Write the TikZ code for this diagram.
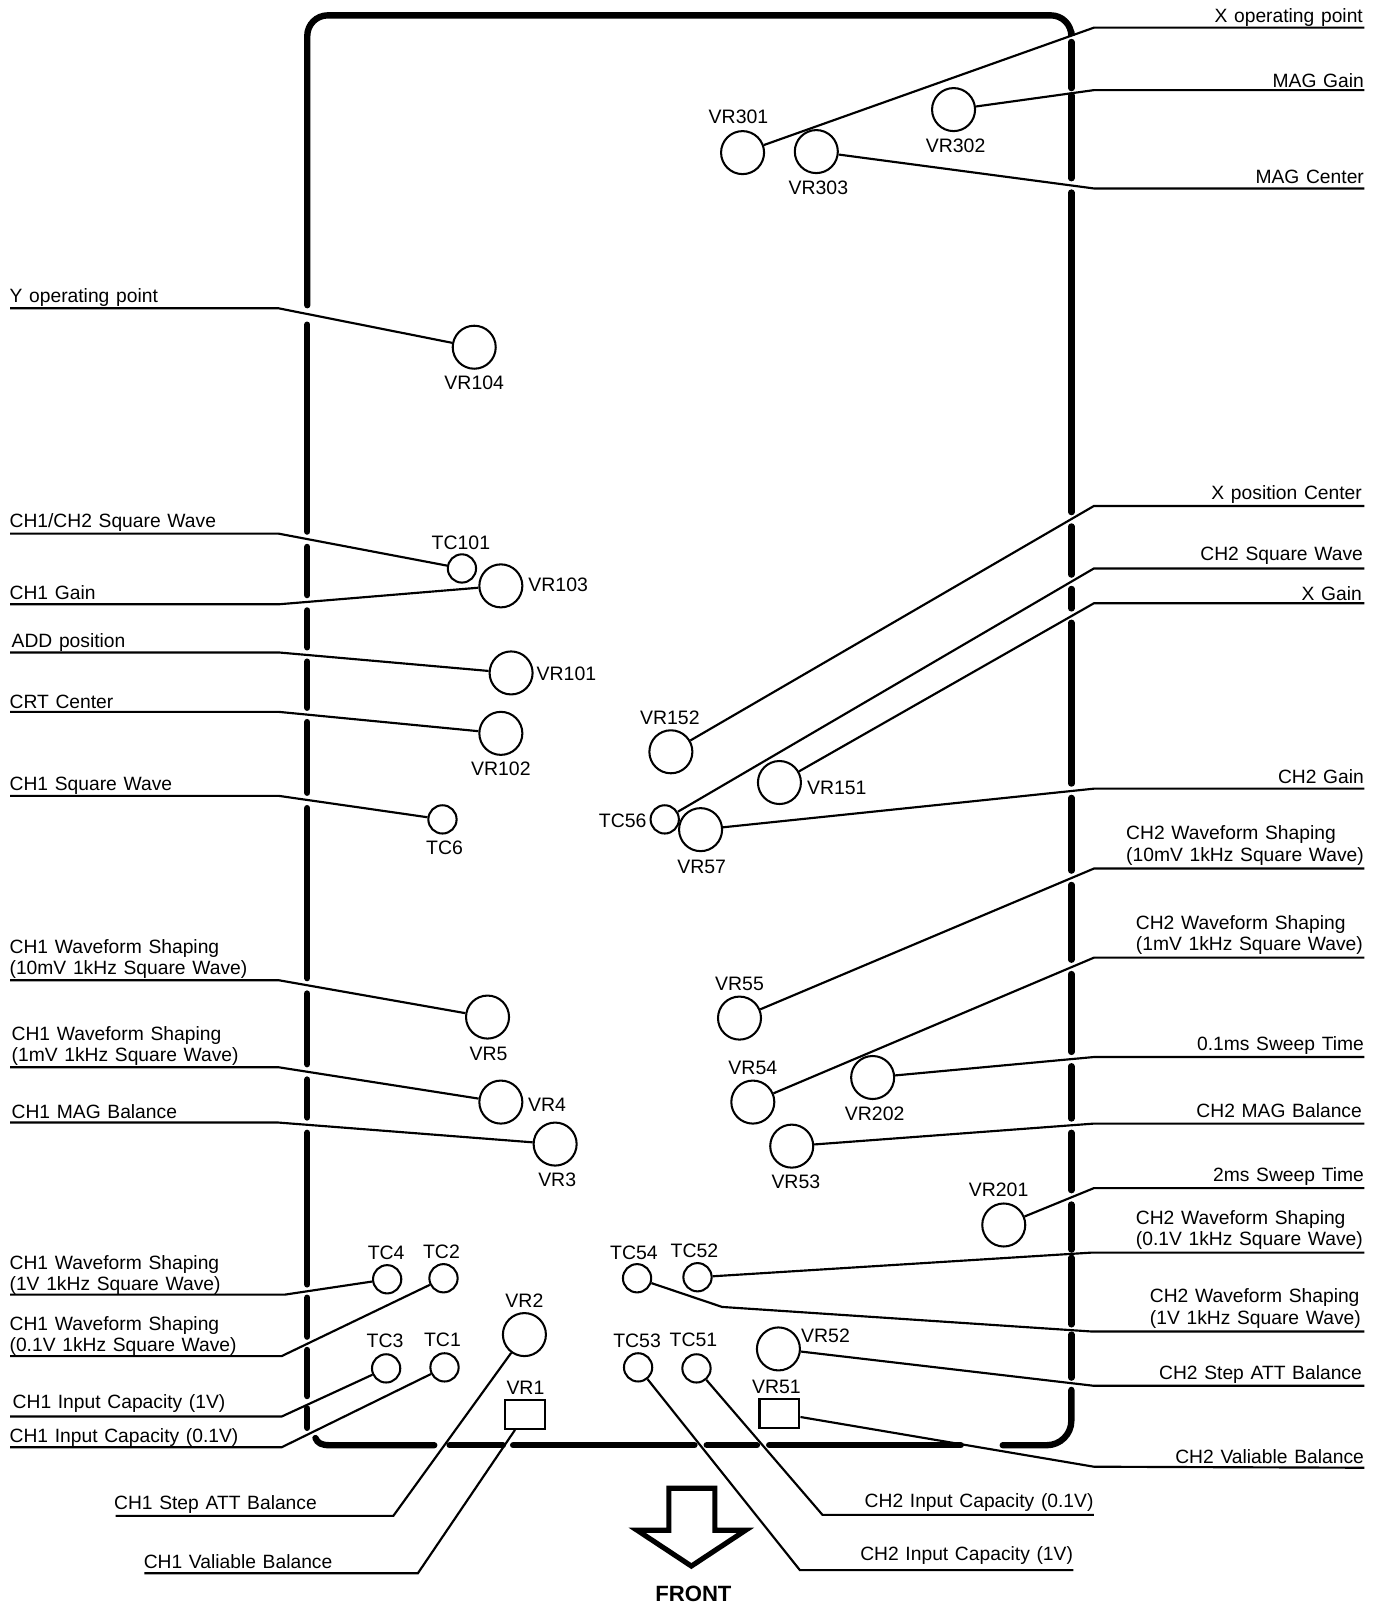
\documentclass[tikz,border=0pt]{standalone}
\usepackage{fontspec}
\setmainfont{Liberation Sans}[WordSpace=1.25]
\usepackage{xcolor}
\usepackage{tikz}
\usetikzlibrary{positioning}

\begin{document}
\begin{tikzpicture}[
  x=0.5pt, y=-0.5pt,
  vr/.style={circle, draw, line width=1pt, minimum size=21pt, inner sep=0pt},
  tc/.style={circle, draw, line width=1pt, minimum size=13.8pt, inner sep=0pt},
  trim/.style={rectangle, draw, line width=1pt, minimum width=19.5pt, minimum height=14pt, inner sep=0pt},
  frm/.style={line width=3.1pt, line cap=round},
  ld/.style={line width=1.05pt},
  tag/.style={font=\fontsize{9.5}{10}\selectfont, inner sep=0pt},
  ll/.style={font=\fontsize{9.4}{10.3}\selectfont, inner sep=0pt, align=left, anchor=south west, yshift=1pt},
  lr/.style={font=\fontsize{9.4}{10.3}\selectfont, inner sep=0pt, align=left, anchor=south east, yshift=1pt},
]
  \useasboundingbox (0,0) rectangle (1350,1568);

  % chassis outline, broken where leaders pass
  \draw[frm, rounded corners=10pt] (300,298) -- (300,15) -- (1046,15) -- (1046,31);
  \draw[frm] (300,317) -- (300,519) (300,534) -- (300,581) (300,596) -- (300,632)
    (300,646) -- (300,691) (300,705) -- (300,774) (300,789) -- (300,955)
    (300,970) -- (300,1039) (300,1054) -- (300,1091) (300,1106) -- (300,1254)
    (300,1267) -- (300,1305) (300,1318) -- (300,1363) (300,1375) -- (300,1394);
  \draw[frm] (308,1404) .. controls (310,1409) and (314,1411) .. (322,1411) -- (424,1411);
  \draw[frm] (439,1411) -- (491,1411) (501,1411) -- (678,1411)
    (690,1411) -- (739,1411) (751,1411) -- (938,1411);
  \draw[frm, rounded corners=12pt] (979,1411) -- (1046,1411) -- (1046,1357);
  \draw[frm] (1046,41) -- (1046,86) (1046,93) -- (1046,174) (1046,188) -- (1046,500)
    (1046,514) -- (1046,561) (1046,575) -- (1046,594) (1046,608) -- (1046,765)
    (1046,779) -- (1046,850) (1046,864) -- (1046,937) (1046,951) -- (1046,1027)
    (1046,1041) -- (1046,1092) (1046,1106) -- (1046,1162) (1046,1176) -- (1046,1220)
    (1046,1228) -- (1046,1293) (1046,1303) -- (1046,1345);

  % parts
  \node[vr] (vr301) at (725,149) {};
  \node[vr] (vr303) at (797,148) {};
  \node[vr] (vr302) at (931,107) {};
  \node[vr] (vr104) at (463,339) {};
  \node[tc] (tc101) at (451,555) {};
  \node[vr] (vr103) at (489,572) {};
  \node[vr] (vr101) at (499,657) {};
  \node[vr] (vr102) at (489,716) {};
  \node[tc] (tc6)   at (432,800) {};
  \node[vr] (vr152) at (655,734) {};
  \node[vr] (vr151) at (761,764) {};
  \node[tc] (tc56)  at (649,800) {};
  \node[vr] (vr57)  at (684,810) {};
  \node[vr] (vr5)   at (476,993) {};
  \node[vr] (vr55)  at (722,994) {};
  \node[vr] (vr4)   at (489,1076) {};
  \node[vr] (vr54)  at (735,1076) {};
  \node[vr] (vr202) at (852,1052) {};
  \node[vr] (vr3)   at (542,1117) {};
  \node[vr] (vr53)  at (773,1119) {};
  \node[vr] (vr201) at (980,1196) {};
  \node[tc] (tc4)   at (378,1249) {};
  \node[tc] (tc2)   at (433,1248) {};
  \node[tc] (tc3)   at (377,1336) {};
  \node[tc] (tc1)   at (434,1335) {};
  \node[vr] (vr2)   at (512,1303) {};
  \node[trim] (vr1) at (513,1381) {};
  \node[tc] (tc54)  at (622,1248) {};
  \node[tc] (tc52)  at (681,1247) {};
  \node[tc] (tc53)  at (623,1335) {};
  \node[tc] (tc51)  at (680,1336) {};
  \node[vr] (vr52)  at (760,1317) {};
  \node[trim] (vr51) at (761,1380) {};

  % part names
  \node[tag] (nvr301) at (721,114)  {VR301};
  \node[tag] (nvr303) at (799,183)  {VR303};
  \node[tag] (nvr302) at (933,142)  {VR302};
  \node[tag] (nvr104) at (463,374)  {VR104};
  \node[tag] (ntc101) at (450,530)  {TC101};
  \node[tag] (nvr103) at (545,571)  {VR103};
  \node[tag] (nvr101) at (553,658)  {VR101};
  \node[tag] (nvr102) at (489,751)  {VR102};
  \node[tag] (ntc6)   at (434,828)  {TC6};
  \node[tag] (nvr152) at (654,701)  {VR152};
  \node[tag] (nvr151) at (817,769)  {VR151};
  \node[tag] (ntc56)  at (608,801)  {TC56};
  \node[tag] (nvr57)  at (685,846)  {VR57};
  \node[tag] (nvr5)   at (477,1029) {VR5};
  \node[tag] (nvr55)  at (722,961)  {VR55};
  \node[tag] (nvr4)   at (534,1079) {VR4};
  \node[tag] (nvr54)  at (735,1043) {VR54};
  \node[tag] (nvr202) at (854,1087) {VR202};
  \node[tag] (nvr3)   at (544,1152) {VR3};
  \node[tag] (nvr53)  at (777,1154) {VR53};
  \node[tag] (nvr201) at (975,1162) {VR201};
  \node[tag] (ntc4)   at (377,1223) {TC4};
  \node[tag] (ntc2)   at (431,1222) {TC2};
  \node[tag] (ntc3)   at (376,1309) {TC3};
  \node[tag] (ntc1)   at (432,1308) {TC1};
  \node[tag] (nvr2)   at (512,1270) {VR2};
  \node[tag] (nvr1)   at (513,1355) {VR1};
  \node[tag] (ntc54)  at (619,1223) {TC54};
  \node[tag] (ntc52)  at (678,1221) {TC52};
  \node[tag] (ntc53)  at (622,1309) {TC53};
  \node[tag] (ntc51)  at (677,1308) {TC51};
  \node[tag] (nvr52)  at (806,1304) {VR52};
  \node[tag] (nvr51)  at (758,1354) {VR51};

  % left side leaders
  \coordinate (eyop) at (10,301);
  \coordinate (ecc) at (10,521);
  \coordinate (egain1) at (10,590);
  \coordinate (eadd) at (10,637);
  \coordinate (ecrt) at (10,695);
  \coordinate (esq1) at (10,777);
  \coordinate (ew10) at (10,957);
  \coordinate (ew1m) at (10,1042);
  \coordinate (emag1) at (10,1096);
  \coordinate (ew1v) at (10,1264);
  \coordinate (ew01) at (10,1324);
  \coordinate (ein1) at (10,1383);
  \coordinate (ein01) at (10,1413);
  \coordinate (eatt1) at (113,1480);
  \coordinate (ebal1) at (141,1536);

  \node[ll] (lyop) at (9,302) {Y operating point};
  \node[ll] (lcc) at (9,521) {CH1/CH2 Square Wave};
  \node[ll] (lgain1) at (9,588) {CH1 Gain};
  \node[ll] (ladd) at (11,638) {ADD position};
  \node[ll] (lcrt) at (9,694) {CRT Center};
  \node[ll] (lsq1) at (9,778) {CH1 Square Wave};
  \node[ll] (lw10) at (9,958) {CH1 Waveform Shaping\\(10mV 1kHz Square Wave)};
  \node[ll] (lw1m) at (11,1043) {CH1 Waveform Shaping\\(1mV 1kHz Square Wave)};
  \node[ll] (lmag1) at (11,1095) {CH1 MAG Balance};
  \node[ll] (lw1v) at (9,1266) {CH1 Waveform Shaping\\(1V 1kHz Square Wave)};
  \node[ll] (lw01) at (9,1326) {CH1 Waveform Shaping\\(0.1V 1kHz Square Wave)};
  \node[ll] (lin1) at (12,1381) {CH1 Input Capacity (1V)};
  \node[ll] (lin01) at (9,1415) {CH1 Input Capacity (0.1V)};
  \node[ll] (latt1) at (111,1480) {CH1 Step ATT Balance};
  \node[ll] (lbal1) at (140,1534) {CH1 Valiable Balance};

  \draw[ld] (vr104) -- (272,301) -- (eyop);
  \draw[ld] (tc101) -- (272,521) -- (ecc);
  \draw[ld] (vr103) -- (272,590) -- (egain1);
  \draw[ld] (vr101) -- (272,637) -- (eadd);
  \draw[ld] (vr102) -- (272,695) -- (ecrt);
  \draw[ld] (tc6) -- (272,777) -- (esq1);
  \draw[ld] (vr5) -- (272,957) -- (ew10);
  \draw[ld] (vr4) -- (272,1042) -- (ew1m);
  \draw[ld] (vr3) -- (272,1096) -- (emag1);
  \draw[ld] (tc4) -- (278,1264) -- (ew1v);
  \draw[ld] (tc2) -- (275,1324) -- (ew01);
  \draw[ld] (tc3) -- (275,1383) -- (ein1);
  \draw[ld] (tc1) -- (275,1413) -- (ein01);
  \draw[ld] (vr2) -- (384,1480) -- (eatt1);
  \draw[ld] (vr1) -- (408,1536) -- (ebal1);

  % right side leaders
  \coordinate (exop) at (1332,27);
  \coordinate (emgain) at (1332,88);
  \coordinate (emcen) at (1332,184);
  \coordinate (expos) at (1332,494);
  \coordinate (esq2) at (1332,555);
  \coordinate (exgain) at (1332,589);
  \coordinate (egain2) at (1332,770);
  \coordinate (ev10) at (1332,848);
  \coordinate (ev1m) at (1332,935);
  \coordinate (esw01) at (1332,1032);
  \coordinate (emag2) at (1332,1097);
  \coordinate (esw2) at (1332,1160);
  \coordinate (ev01) at (1332,1223);
  \coordinate (ev1v) at (1332,1300);
  \coordinate (eatt2) at (1332,1353);
  \coordinate (ebal2) at (1332,1433);
  \coordinate (ein201) at (1068,1479);
  \coordinate (ein21) at (1048,1533);

  \node[lr] (lxop) at (1331,28) {X operating point};
  \node[lr] (lmgain) at (1332,88) {MAG Gain};
  \node[lr] (lmcen) at (1332,182) {MAG Center};
  \node[lr] (lxpos) at (1330,494) {X position Center};
  \node[lr] (lsq2) at (1331,554) {CH2 Square Wave};
  \node[lr] (lxgain) at (1330,589) {X Gain};
  \node[lr] (lgain2) at (1332,768) {CH2 Gain};
  \node[lr] (lv10) at (1332,847) {CH2 Waveform Shaping\\(10mV 1kHz Square Wave)};
  \node[lr] (lv1m) at (1331,934) {CH2 Waveform Shaping\\(1mV 1kHz Square Wave)};
  \node[lr] (lsw01) at (1332,1032) {0.1ms Sweep Time};
  \node[lr] (lmag2) at (1330,1094) {CH2 MAG Balance};
  \node[lr] (lsw2) at (1332,1160) {2ms Sweep Time};
  \node[lr] (lv01) at (1331,1222) {CH2 Waveform Shaping\\(0.1V 1kHz Square Wave)};
  \node[lr] (lv1v) at (1329,1299) {CH2 Waveform Shaping\\(1V 1kHz Square Wave)};
  \node[lr] (latt2) at (1330,1353) {CH2 Step ATT Balance};
  \node[lr] (lbal2) at (1332,1431) {CH2 Valiable Balance};
  \node[lr] (lin201) at (1068,1478) {CH2 Input Capacity (0.1V)};
  \node[lr] (lin21) at (1048,1530) {CH2 Input Capacity (1V)};

  \draw[ld] (vr301) -- (1068,27) -- (exop);
  \draw[ld] (vr302) -- (1068,88) -- (emgain);
  \draw[ld] (vr303) -- (1068,184) -- (emcen);
  \draw[ld] (vr152) -- (1068,494) -- (expos);
  \draw[ld] (tc56) -- (1068,555) -- (esq2);
  \draw[ld] (vr151) -- (1068,589) -- (exgain);
  \draw[ld] (vr57) -- (1068,770) -- (egain2);
  \draw[ld] (vr55) -- (1068,848) -- (ev10);
  \draw[ld] (vr54) -- (1068,935) -- (ev1m);
  \draw[ld] (vr202) -- (1068,1032) -- (esw01);
  \draw[ld] (vr53) -- (1068,1097) -- (emag2);
  \draw[ld] (vr201) -- (1068,1160) -- (esw2);
  \draw[ld] (tc52) -- (1065,1223) -- (ev01);
  \draw[ld] (tc54) -- (705,1276) -- (1066,1300) -- (ev1v);
  \draw[ld] (vr52) -- (1068,1353) -- (eatt2);
  \draw[ld] (vr51) -- (1068,1432) -- (ebal2);
  \draw[ld] (tc51) -- (803,1479) -- (ein201);
  \draw[ld] (tc53) -- (781,1533) -- (ein21);

  % front arrow
  \draw[line width=2.5pt, line join=miter] (653,1453) -- (698,1453) -- (698,1494) -- (728,1494)
    -- (675,1529) -- (622,1494) -- (653,1494) -- cycle;
  \node[font=\fontsize{10.8}{12}\selectfont\bfseries, inner sep=0pt] (front) at (677,1556) {FRONT};
\end{tikzpicture}
\end{document}
